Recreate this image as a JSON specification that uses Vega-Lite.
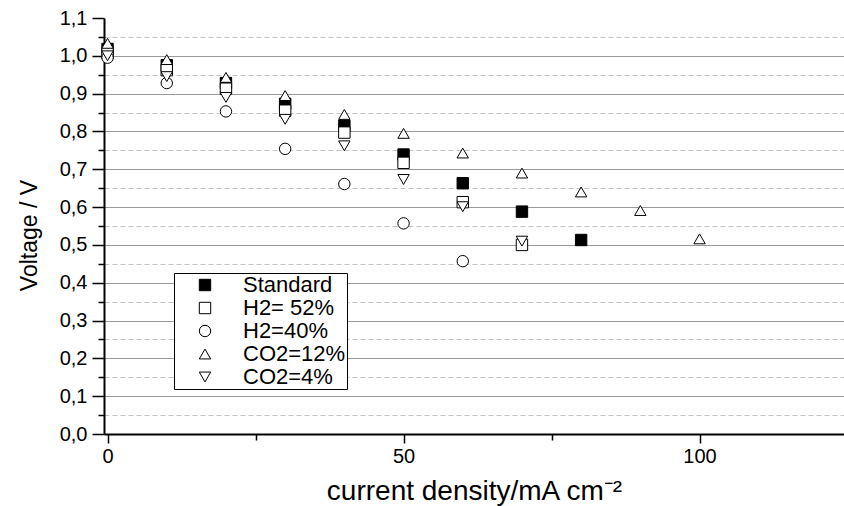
{
  "$schema": "https://vega.github.io/schema/vega-lite/v6.json",
  "width": 740,
  "height": 416,
  "autosize": {"type": "none"},
  "padding": {"left": 104, "top": 18, "right": 0, "bottom": 72},
  "background": "white",
  "config": {
    "view": {"stroke": null},
    "font": "Liberation Sans",
    "legend": {
      "orient": "none",
      "legendX": 70,
      "legendY": 255,
      "strokeColor": "black",
      "fillColor": "white",
      "padding": 1,
      "labelFont": "Liberation Sans",
      "labelFontSize": 22,
      "labelColor": "black",
      "labelOffset": 27,
      "symbolOffset": 19,
      "rowPadding": 1,
      "symbolStrokeWidth": 1
    }
  },
  "data": {
    "values": [
      {"series": "Standard", "current": 0, "voltage": 1.018},
      {"series": "Standard", "current": 10, "voltage": 0.975},
      {"series": "Standard", "current": 20, "voltage": 0.928},
      {"series": "Standard", "current": 30, "voltage": 0.873},
      {"series": "Standard", "current": 40, "voltage": 0.815},
      {"series": "Standard", "current": 50, "voltage": 0.739},
      {"series": "Standard", "current": 60, "voltage": 0.663},
      {"series": "Standard", "current": 70, "voltage": 0.588},
      {"series": "Standard", "current": 80, "voltage": 0.513},
      {"series": "H2= 52%", "current": 0, "voltage": 1.008},
      {"series": "H2= 52%", "current": 10, "voltage": 0.962},
      {"series": "H2= 52%", "current": 20, "voltage": 0.913},
      {"series": "H2= 52%", "current": 30, "voltage": 0.855},
      {"series": "H2= 52%", "current": 40, "voltage": 0.797},
      {"series": "H2= 52%", "current": 50, "voltage": 0.717},
      {"series": "H2= 52%", "current": 60, "voltage": 0.613},
      {"series": "H2= 52%", "current": 70, "voltage": 0.5},
      {"series": "H2=40%", "current": 0, "voltage": 0.995},
      {"series": "H2=40%", "current": 10, "voltage": 0.928},
      {"series": "H2=40%", "current": 20, "voltage": 0.853},
      {"series": "H2=40%", "current": 30, "voltage": 0.754},
      {"series": "H2=40%", "current": 40, "voltage": 0.661},
      {"series": "H2=40%", "current": 50, "voltage": 0.557},
      {"series": "H2=40%", "current": 60, "voltage": 0.457},
      {"series": "CO2=12%", "current": 0, "voltage": 1.033},
      {"series": "CO2=12%", "current": 10, "voltage": 0.99},
      {"series": "CO2=12%", "current": 20, "voltage": 0.943},
      {"series": "CO2=12%", "current": 30, "voltage": 0.895},
      {"series": "CO2=12%", "current": 40, "voltage": 0.845},
      {"series": "CO2=12%", "current": 50, "voltage": 0.795},
      {"series": "CO2=12%", "current": 60, "voltage": 0.743},
      {"series": "CO2=12%", "current": 70, "voltage": 0.69},
      {"series": "CO2=12%", "current": 80, "voltage": 0.64},
      {"series": "CO2=12%", "current": 90, "voltage": 0.591},
      {"series": "CO2=12%", "current": 100, "voltage": 0.516},
      {"series": "CO2=4%", "current": 0, "voltage": 1.0},
      {"series": "CO2=4%", "current": 10, "voltage": 0.945},
      {"series": "CO2=4%", "current": 20, "voltage": 0.89},
      {"series": "CO2=4%", "current": 30, "voltage": 0.832},
      {"series": "CO2=4%", "current": 40, "voltage": 0.762},
      {"series": "CO2=4%", "current": 50, "voltage": 0.673},
      {"series": "CO2=4%", "current": 60, "voltage": 0.601},
      {"series": "CO2=4%", "current": 70, "voltage": 0.51}
    ]
  },
  "mark": {"type": "point", "filled": true, "strokeWidth": 1, "opacity": 1},
  "encoding": {
    "x": {
      "field": "current",
      "type": "quantitative",
      "scale": {"domain": [-0.6, 124.4], "nice": false, "zero": false},
      "axis": {
        "values": [0, 25, 50, 75, 100],
        "title": "current density/mA cm⁻²",
        "titleFont": "Liberation Sans",
        "titleFontSize": 28,
        "titleFontWeight": "normal",
        "titleColor": "black",
        "titleBaseline": "alphabetic",
        "titleY": 65,
        "labelExpr": "datum.value % 50 == 0 ? datum.label : ''",
        "labelFont": "Liberation Sans",
        "labelFontSize": 20,
        "labelColor": "black",
        "labelPadding": 3,
        "labelFlush": false,
        "labelOverlap": false,
        "tickSize": {"condition": {"test": "datum.value % 50 == 0", "value": 9}, "value": 6},
        "tickColor": "black",
        "tickWidth": 1.5,
        "domainColor": "black",
        "domainWidth": 2,
        "grid": false
      }
    },
    "y": {
      "field": "voltage",
      "type": "quantitative",
      "scale": {"domain": [0, 1.1], "nice": false, "zero": true},
      "axis": {
        "values": [0, 0.05, 0.1, 0.15, 0.2, 0.25, 0.3, 0.35, 0.4, 0.45, 0.5, 0.55, 0.6, 0.65, 0.7, 0.75, 0.8, 0.85, 0.9, 0.95, 1.0, 1.05, 1.1],
        "title": "Voltage / V",
        "titleFont": "Liberation Sans",
        "titleFontSize": 23,
        "titleFontWeight": "normal",
        "titleColor": "black",
        "titleAngle": -90,
        "titleBaseline": "bottom",
        "titleX": -63,
        "titleY": 217,
        "labelExpr": "round(datum.value * 20) % 2 == 0 ? replace(format(datum.value, '.1f'), '.', ',') : ''",
        "labelFont": "Liberation Sans",
        "labelFontSize": 20,
        "labelColor": "black",
        "labelPadding": 5,
        "labelFlush": false,
        "labelOverlap": false,
        "tickSize": {"condition": {"test": "round(datum.value * 20) % 2 == 0", "value": 12}, "value": 6},
        "tickColor": "black",
        "tickWidth": 1.5,
        "domainColor": "black",
        "domainWidth": 2,
        "grid": true,
        "gridColor": {"condition": {"test": "round(datum.value * 20) % 2 == 0", "value": "#9a9a9a"}, "value": "#c4c4c4"},
        "gridDash": {"condition": {"test": "round(datum.value * 20) % 2 == 0", "value": []}, "value": [5, 3]},
        "gridOpacity": {"condition": {"test": "datum.value > 1.08 || datum.value < 0.01", "value": 0}, "value": 1}
      }
    },
    "shape": {
      "field": "series",
      "type": "nominal",
      "scale": {
        "domain": ["Standard", "H2= 52%", "H2=40%", "CO2=12%", "CO2=4%"],
        "range": ["square", "square", "circle", "triangle-up", "triangle-down"]
      },
      "legend": {"title": null, "labelExpr": "datum.label + '\u00a0\u00a0\u00a0'"}
    },
    "fill": {
      "field": "series",
      "type": "nominal",
      "scale": {
        "domain": ["Standard", "H2= 52%", "H2=40%", "CO2=12%", "CO2=4%"],
        "range": ["black", "white", "white", "white", "white"]
      },
      "legend": {"title": null, "labelExpr": "datum.label + '\u00a0\u00a0\u00a0'"}
    },
    "stroke": {
      "field": "series",
      "type": "nominal",
      "scale": {
        "domain": ["Standard", "H2= 52%", "H2=40%", "CO2=12%", "CO2=4%"],
        "range": ["black", "black", "black", "black", "black"]
      },
      "legend": {"title": null, "labelExpr": "datum.label + '\u00a0\u00a0\u00a0'"}
    },
    "size": {
      "field": "series",
      "type": "nominal",
      "scale": {
        "domain": ["Standard", "H2= 52%", "H2=40%", "CO2=12%", "CO2=4%"],
        "range": [130, 130, 132, 230, 230]
      },
      "legend": {"title": null, "labelExpr": "datum.label + '\u00a0\u00a0\u00a0'"}
    }
  }
}
